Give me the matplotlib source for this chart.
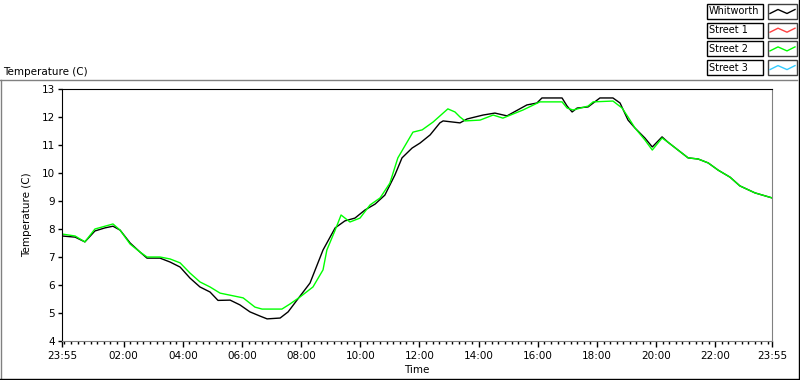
import matplotlib.pyplot as plt
import numpy as np
from matplotlib.patches import Rectangle
from matplotlib.lines import Line2D

plt.rcParams['font.family'] = ['DejaVu Sans']
plt.rcParams['font.size'] = 7.5

# --- data (hours since midnight, temperature in C) ---
whit_t = [-0.08, 0.36, 0.69, 1.03, 1.37, 1.64, 1.88, 2.22, 2.55, 2.79, 3.23, 3.57, 3.91,
          4.24, 4.58, 4.92, 5.19, 5.60, 5.93, 6.27, 6.61, 6.85, 7.29, 7.56, 7.86, 8.30,
          8.74, 9.15, 9.48, 9.82, 10.16, 10.50, 10.83, 11.17, 11.41, 11.75, 12.02, 12.36,
          12.69, 12.80, 13.37, 13.61, 14.15, 14.55, 14.96, 15.63, 15.97, 16.14, 16.82,
          16.99, 17.16, 17.33, 17.70, 18.10, 18.54, 18.78, 19.05, 19.29, 19.62, 19.87,
          20.20, 20.40, 20.74, 21.08, 21.42, 21.76, 22.10, 22.50, 22.83, 23.34, 23.92]
whit_v = [7.75, 7.71, 7.54, 7.93, 8.04, 8.10, 7.96, 7.50, 7.18, 6.96, 6.96, 6.82, 6.64,
          6.25, 5.93, 5.75, 5.45, 5.46, 5.29, 5.04, 4.89, 4.79, 4.82, 5.04, 5.46, 6.07,
          7.25, 8.04, 8.29, 8.39, 8.68, 8.89, 9.21, 9.93, 10.54, 10.89, 11.07, 11.36,
          11.79, 11.86, 11.79, 11.93, 12.07, 12.14, 12.04, 12.43, 12.50, 12.68, 12.68,
          12.39, 12.18, 12.32, 12.36, 12.68, 12.68, 12.50, 11.89, 11.60, 11.25, 10.93,
          11.29, 11.10, 10.82, 10.54, 10.50, 10.36, 10.10, 9.85, 9.54, 9.29, 9.11]

st2_t = [-0.08, 0.36, 0.69, 1.03, 1.37, 1.64, 1.88, 2.22, 2.55, 2.79, 3.23, 3.57, 3.91,
         4.24, 4.58, 4.92, 5.26, 6.04, 6.44, 6.68, 7.35, 7.62, 7.96, 8.40, 8.74, 8.87,
         9.15, 9.35, 9.65, 9.99, 10.33, 10.67, 11.00, 11.27, 11.78, 12.09, 12.46, 12.80,
         12.96, 13.20, 13.37, 13.54, 14.05, 14.49, 14.82, 15.50, 16.07, 16.82, 16.99,
         17.19, 17.70, 17.87, 18.54, 18.85, 19.05, 19.29, 19.62, 19.87, 20.20, 20.40,
         20.74, 21.08, 21.42, 21.76, 22.10, 22.50, 22.83, 23.34, 23.92]
st2_v = [7.82, 7.75, 7.54, 8.00, 8.10, 8.18, 7.96, 7.46, 7.18, 7.00, 7.00, 6.93, 6.79,
         6.43, 6.11, 5.93, 5.71, 5.54, 5.21, 5.14, 5.14, 5.32, 5.57, 5.93, 6.54, 7.25,
         7.96, 8.50, 8.25, 8.39, 8.86, 9.11, 9.64, 10.54, 11.46, 11.54, 11.82, 12.14,
         12.29, 12.18, 12.00, 11.86, 11.89, 12.07, 11.96, 12.25, 12.54, 12.54, 12.32,
         12.25, 12.39, 12.54, 12.57, 12.32, 12.00, 11.60, 11.18, 10.82, 11.25, 11.10,
         10.82, 10.54, 10.50, 10.36, 10.10, 9.85, 9.54, 9.29, 9.11]

legend_names = ['Whitworth', 'Street 1', 'Street 2', 'Street 3']
legend_colors = ['#000000', '#ff4040', '#00ff00', '#33ccff']

t_start = -5 / 60
t_end = 23 + 55 / 60
major_hours = [2, 4, 6, 8, 10, 12, 14, 16, 18, 20, 22]

W, H = 800, 380
fig = plt.figure(figsize=(W / 100, H / 100), dpi=100)


def fx(x):
    return x / W


def fy(y):
    return 1 - y / H


ax = fig.add_axes([fx(62), fy(341), fx(772) - fx(62), fy(89) - fy(341)])
ax.plot(whit_t, whit_v, color='black', lw=1.0)
ax.plot(st2_t, st2_v, color='#00ff00', lw=1.0)

ax.set_xlim(t_start, t_end)
ax.set_ylim(4, 13)

ax.set_xticks([t_start] + major_hours + [t_end])
ax.set_xticklabels(['23:55'] + ['%02d:00' % h for h in major_hours] + ['23:55'])
minor = [m for m in np.arange(0, 24, 2 / 9) if min(abs(m - h) for h in major_hours) > 0.01]
ax.set_xticks(minor, minor=True)
ax.set_yticks(range(4, 14))
ax.tick_params(axis='x', which='major', length=4, width=1, pad=3)
ax.tick_params(axis='x', which='minor', length=2.2, width=1)
ax.tick_params(axis='y', length=3, width=1, pad=2)

for side in ['top', 'left']:
    ax.spines[side].set_color('black')
for side in ['right', 'bottom']:
    ax.spines[side].set_color('#808080')

ax.set_ylabel('Temperature (C)')
ax.yaxis.set_label_coords((32 - 62) / 710, 0.5)
ax.set_xlabel('Time')
ax.xaxis.set_label_coords(0.5, (341 - 370) / 252)
ax.xaxis.label.set_va('center')

fig.text(fx(3), fy(72), 'Temperature (C)', va='center', ha='left')

# frame around graph area
fig.add_artist(Line2D([fx(0), fx(797)], [fy(80), fy(80)], color='#808080', lw=1))
fig.add_artist(Line2D([fx(0.5), fx(0.5)], [fy(80), fy(378)], color='#808080', lw=1))
fig.add_artist(Line2D([fx(0), fx(799)], [fy(378.5), fy(378.5)], color='black', lw=1))
fig.add_artist(Line2D([fx(799), fx(799)], [fy(0), fy(379)], color='black', lw=1))

# legend
for i, (name, col) in enumerate(zip(legend_names, legend_colors)):
    top = 4 + i * 18.7
    bot = top + 15
    fig.add_artist(Rectangle((fx(707), fy(bot)), fx(763) - fx(707), fy(top) - fy(bot),
                             transform=fig.transFigure, fill=False, ec='black', lw=1))
    fig.add_artist(Rectangle((fx(768), fy(bot)), fx(797) - fx(768), fy(top) - fy(bot),
                             transform=fig.transFigure, fill=False, ec='#404040', lw=1))
    c = (top + bot) / 2
    fig.add_artist(Line2D([fx(770), fx(778), fx(787), fx(795)],
                          [fy(c + 2), fy(c - 2), fy(c + 2), fy(c - 2)], color=col, lw=1))
    fig.text(fx(709), fy(c), name, va='center', ha='left', fontsize=7)

fig.savefig('out.png', dpi=100)
